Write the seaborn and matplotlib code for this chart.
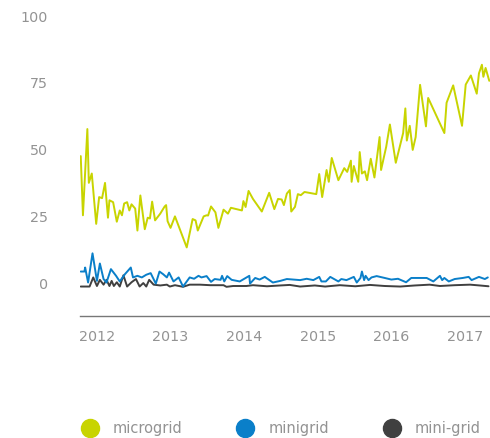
import pandas as pd
import numpy as np
import matplotlib
matplotlib.use("Agg")
import matplotlib.pyplot as plt
from matplotlib.lines import Line2D
import seaborn as sns

# --- data (decimal years, values) ---
micro_x = [2011.78, 2011.81, 2011.87, 2011.89, 2011.93, 2011.99, 2012.03, 2012.07, 2012.11, 2012.15,
           2012.17, 2012.22, 2012.27, 2012.31, 2012.34, 2012.37, 2012.41, 2012.44, 2012.47, 2012.52,
           2012.55, 2012.59, 2012.65, 2012.69, 2012.72, 2012.75, 2012.79, 2012.86, 2012.92, 2012.94,
           2012.96, 2013.00, 2013.06, 2013.22, 2013.30, 2013.34, 2013.37, 2013.45, 2013.49, 2013.51,
           2013.55, 2013.61, 2013.65, 2013.72, 2013.78, 2013.82, 2013.97, 2013.99, 2014.02, 2014.06,
           2014.12, 2014.24, 2014.34, 2014.41, 2014.46, 2014.51, 2014.54, 2014.58, 2014.62, 2014.64,
           2014.69, 2014.73, 2014.77, 2014.82, 2014.98, 2015.02, 2015.06, 2015.12, 2015.15, 2015.19,
           2015.28, 2015.36, 2015.40, 2015.45, 2015.46, 2015.49, 2015.55, 2015.57, 2015.60, 2015.64,
           2015.67, 2015.72, 2015.77, 2015.84, 2015.86, 2015.93, 2015.98, 2016.06, 2016.16, 2016.19,
           2016.21, 2016.25, 2016.29, 2016.33, 2016.39, 2016.47, 2016.50, 2016.72, 2016.75, 2016.84,
           2016.96, 2017.01, 2017.08, 2017.16, 2017.19, 2017.23, 2017.25, 2017.28, 2017.33]
micro_y = [47.7, 25.6, 57.8, 37.7, 41.2, 22.4, 32.4, 32.0, 37.7, 24.7,
           31.2, 30.5, 23.2, 27.4, 25.6, 30.0, 30.5, 27.4, 29.7, 28.1,
           19.9, 33.0, 20.4, 24.7, 24.4, 30.7, 23.7, 26.2, 28.9, 29.4,
           23.4, 20.9, 25.2, 13.6, 24.2, 23.7, 19.9, 25.2, 25.6, 25.5,
           28.9, 26.7, 20.9, 27.7, 26.2, 28.4, 27.4, 30.9, 28.7, 34.7,
           31.7, 27.0, 34.0, 27.9, 31.7, 31.5, 29.4, 33.7, 35.0, 27.0,
           28.7, 33.5, 33.1, 34.3, 33.5, 41.0, 32.4, 42.5, 38.1, 47.0,
           38.7, 43.2, 41.8, 46.0, 38.1, 44.0, 38.1, 49.2, 41.2, 42.0,
           38.7, 46.7, 39.7, 54.8, 42.5, 51.2, 59.5, 45.2, 56.3, 65.5,
           53.5, 59.0, 50.0, 54.8, 74.3, 58.8, 69.4, 56.3, 67.6, 74.1,
           59.0, 74.4, 77.8, 71.0, 78.6, 81.8, 77.3, 80.6, 75.8]

mini_x = [2011.78, 2011.83, 2011.84, 2011.88, 2011.94, 2012.00, 2012.04, 2012.09, 2012.13, 2012.19,
          2012.26, 2012.31, 2012.38, 2012.46, 2012.49, 2012.55, 2012.61, 2012.67, 2012.73, 2012.80,
          2012.85, 2012.90, 2012.95, 2012.98, 2013.04, 2013.11, 2013.17, 2013.26, 2013.32, 2013.38,
          2013.42, 2013.49, 2013.55, 2013.60, 2013.68, 2013.70, 2013.73, 2013.77, 2013.83, 2013.94,
          2014.07, 2014.08, 2014.15, 2014.21, 2014.28, 2014.39, 2014.49, 2014.58, 2014.76, 2014.85,
          2014.94, 2015.02, 2015.05, 2015.11, 2015.17, 2015.28, 2015.32, 2015.39, 2015.49, 2015.53,
          2015.58, 2015.60, 2015.63, 2015.65, 2015.69, 2015.73, 2015.80, 2015.91, 2016.00, 2016.09,
          2016.20, 2016.27, 2016.48, 2016.57, 2016.66, 2016.69, 2016.72, 2016.78, 2016.86, 2016.97,
          2017.05, 2017.09, 2017.19, 2017.27, 2017.31]
mini_y = [4.6, 4.6, 6.1, 0.5, 11.4, 1.1, 7.6, 1.8, 0.5, 5.5,
          3.0, 0.9, 3.6, 6.1, 2.4, 3.0, 2.4, 3.4, 4.0, 0.1,
          4.6, 3.6, 2.4, 4.2, 0.9, 2.4, -1.0, 2.4, 1.9, 3.0,
          2.4, 2.9, 0.75, 1.8, 1.5, 3.0, 0.9, 2.9, 1.5, 0.9,
          3.0, 0.1, 2.2, 1.6, 2.6, 0.5, 1.1, 1.8, 1.4, 1.9,
          1.4, 2.6, 0.9, 0.9, 2.6, 0.9, 1.8, 1.4, 2.6, 0.5,
          2.2, 4.6, 1.4, 3.0, 1.4, 2.4, 2.9, 2.2, 1.6, 1.9,
          0.6, 2.2, 2.2, 0.9, 3.0, 1.4, 2.2, 0.9, 1.8, 2.2,
          2.6, 1.4, 2.6, 1.8, 2.4]

hyph_x = [2011.78, 2011.90, 2011.95, 2012.00, 2012.04, 2012.09, 2012.13, 2012.17, 2012.20, 2012.23,
          2012.27, 2012.31, 2012.36, 2012.41, 2012.47, 2012.53, 2012.58, 2012.63, 2012.67, 2012.71,
          2012.77, 2012.86, 2012.95, 2012.99, 2013.06, 2013.17, 2013.26, 2013.40, 2013.54, 2013.72,
          2013.76, 2013.85, 2014.03, 2014.12, 2014.31, 2014.49, 2014.62, 2014.76, 2014.96, 2015.10,
          2015.30, 2015.51, 2015.71, 2015.91, 2016.12, 2016.32, 2016.52, 2016.66, 2016.86, 2017.07,
          2017.20, 2017.32]
hyph_y = [-1.0, -1.0, 2.4, -0.8, 1.5, -0.3, 1.5, -0.8, 1.1, -0.8,
          0.6, -1.0, 3.2, -1.0, 0.6, 1.8, -1.0, 0.3, -1.0, 1.5,
          -0.3, -0.6, -0.3, -1.0, -0.5, -1.1, -0.3, -0.3, -0.5, -0.5,
          -1.1, -0.8, -0.8, -0.5, -0.9, -0.6, -0.4, -1.0, -0.6, -1.0,
          -0.5, -0.9, -0.4, -0.8, -1.0, -0.6, -0.3, -0.8, -0.5, -0.3,
          -0.6, -0.9]

series_names = ['microgrid', 'minigrid', 'mini-grid']
series_colors = ['#c8d400', '#0a7fc9', '#404040']
years = [2012, 2013, 2014, 2015, 2016, 2017]
y_ticks = [0, 25, 50, 75, 100]

df = pd.concat([
    pd.DataFrame({'ano': micro_x, 'valor': micro_y, 'termo': 'microgrid'}),
    pd.DataFrame({'ano': mini_x, 'valor': mini_y, 'termo': 'minigrid'}),
    pd.DataFrame({'ano': hyph_x, 'valor': hyph_y, 'termo': 'mini-grid'}),
], ignore_index=True)

sns.set_theme(style="white")
plt.rcParams['font.family'] = ['DejaVu Sans']
texto = '#939393'

fig = plt.figure(figsize=(4.9, 4.38), dpi=100)
ax = fig.add_axes([80 / 490, 1 - 316 / 438, 410 / 490, 300 / 438])

# desenha as linhas (mini-grid primeiro, micro por cima)
paleta = dict(zip(series_names, series_colors))
for nome in ['mini-grid', 'minigrid', 'microgrid']:
    sns.lineplot(data=df[df['termo'] == nome], x='ano', y='valor', color=paleta[nome],
                 linewidth=1.4, estimator=None, ax=ax, legend=False)

ax.set_xlim(2011.77, 2017.34)
ax.set_ylim(-12, 100)
ax.set_xticks(years)
ax.set_xticklabels([str(a) for a in years])
ax.set_yticks(y_ticks)
ax.set_xlabel('')
ax.set_ylabel('')
for lado in ['left', 'top', 'right']:
    ax.spines[lado].set_visible(False)
ax.spines['bottom'].set_color('#777777')
ax.spines['bottom'].set_linewidth(1.0)
ax.tick_params(axis='both', length=0, labelsize=10.3, labelcolor=texto)
ax.tick_params(axis='y', pad=23)
ax.tick_params(axis='x', pad=10)
ax.grid(False)

# legenda com bolinhas
handles = [Line2D([0], [0], marker='o', linestyle='none', markersize=13,
                  markerfacecolor=c, markeredgecolor=c) for c in series_colors]
leg = fig.legend(handles, series_names, loc='center', bbox_to_anchor=(0.573, 1 - 429 / 438),
                 ncol=3, frameon=False, fontsize=10.5, handlelength=1.2, handletextpad=0.98,
                 columnspacing=3.7, borderaxespad=0)
for t in leg.get_texts():
    t.set_color(texto)

fig.savefig('out.png', dpi=100)
